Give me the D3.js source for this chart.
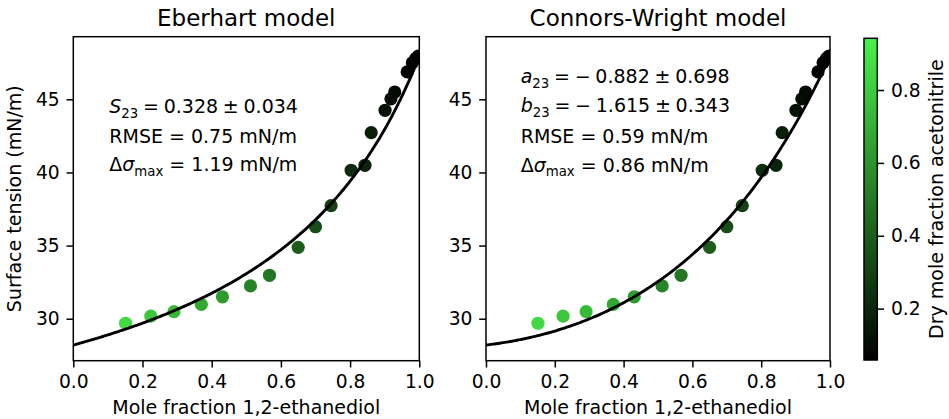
<!DOCTYPE html>
<html>
<head>
<meta charset="utf-8">
<script src="https://cdn.jsdelivr.net/npm/d3@7"></script>
<style>
  html, body { margin: 0; padding: 0; background: #fff; }
  svg { display: block; font-family: "DejaVu Sans", sans-serif; }
  text { fill: #000; }
</style>
</head>
<body>
<svg id="chart" width="949" height="419"></svg>
<script>
// Measured mixtures: mole fraction of 1,2-ethanediol, surface tension (mN/m),
// and the dry mole fraction of acetonitrile used for the colour of each point.
const ethanediol = [0.151, 0.224, 0.291, 0.370, 0.431, 0.512, 0.567, 0.650, 0.700, 0.745,
                    0.803, 0.843, 0.861, 0.901, 0.918, 0.929, 0.965, 0.980, 0.990, 0.997];
const tension    = [29.69, 30.18, 30.48, 30.98, 31.50, 32.24, 32.97, 34.88, 36.29, 37.73,
                    40.15, 40.49, 42.72, 44.25, 45.03, 45.50, 46.87, 47.51, 47.80, 47.95];
const acnDry     = [0.854, 0.780, 0.736, 0.677, 0.626, 0.537, 0.490, 0.400, 0.340, 0.300,
                    0.220, 0.190, 0.170, 0.130, 0.110, 0.100, 0.070, 0.050, 0.040, 0.030];

// Pure-component surface tensions (acetonitrile, 1,2-ethanediol), mN/m
const pureTension = [28.2, 47.95];

// Fitted model parameters
const eberhartParams = [0.328];          // S23
const connorsParams  = [-0.882, -1.615]; // a23, b23

const xTicks  = [0.0, 0.2, 0.4, 0.6, 0.8, 1.0];
const yTicks  = [30, 35, 40, 45];
const cbTicks = [0.2, 0.4, 0.6, 0.8];
const titles  = ["Eberhart model", "Connors-Wright model"];

const svg = d3.select("#chart");
const FS = 19;
const MS = "\u2005"; // medium space used around math operators

const yDomain = [27.13, 49.28];
const panels = [
  { x0: 73.3, x1: 419.3 },
  { x0: 486, x1: 830 }
];
const plotTop = 36.7, plotBottom = 360.7;

const cDomain = [0.059, 0.942];
const topColor = "rgb(72,242,72)";
const color = d3.scaleLinear().domain(cDomain).range(["#000000", topColor])
  .interpolate(d3.interpolateRgb).clamp(true);

const [sA, sB] = pureTension;
const models = [
  x => {
    const S = eberhartParams[0];
    return ((1 - x) * sA + S * x * sB) / ((1 - x) + S * x);
  },
  x => {
    const [a, b] = connorsParams;
    const xa = 1 - x;
    return sA + (1 + b * xa / (1 - a * xa)) * x * (sB - sA);
  }
];

const points = ethanediol.map((x, i) => ({ x, y: tension[i], c: acnDry[i] }));
const curveX = d3.range(0, 201).map(i => i / 200);

panels.forEach((p, k) => {
  const xs = d3.scaleLinear().domain([0, 1]).range([p.x0, p.x1]);
  const ys = d3.scaleLinear().domain(yDomain).range([plotBottom, plotTop]);
  const g = svg.append("g");

  const clipId = "clip" + k;
  svg.append("clipPath").attr("id", clipId).append("rect")
    .attr("x", p.x0).attr("y", plotTop).attr("width", p.x1 - p.x0).attr("height", plotBottom - plotTop);

  const plot = g.append("g").attr("clip-path", `url(#${clipId})`);
  plot.selectAll("circle").data(points).enter().append("circle")
    .attr("cx", d => xs(d.x)).attr("cy", d => ys(d.y)).attr("r", 6.6)
    .attr("fill", d => color(d.c));

  const line = d3.line().x(d => xs(d)).y(d => ys(models[k](d)));
  plot.append("path").datum(curveX).attr("d", line)
    .attr("fill", "none").attr("stroke", "#000").attr("stroke-width", 2.9);

  // axes
  const xAxis = d3.axisBottom(xs).tickValues(xTicks).tickFormat(d3.format(".1f"))
    .tickSize(6.8).tickPadding(6.8);
  const gx = g.append("g").attr("transform", `translate(0,${plotBottom})`).call(xAxis);
  const yAxis = d3.axisLeft(ys).tickValues(yTicks).tickFormat(d3.format("d"))
    .tickSize(6.8).tickPadding(6.8);
  const gy = g.append("g").attr("transform", `translate(${p.x0},0)`).call(yAxis);
  [gx, gy].forEach(a => {
    a.select(".domain").remove();
    a.selectAll(".tick line").attr("stroke", "#000").attr("stroke-width", 1.5);
    a.selectAll(".tick text").attr("font-size", 18.7).attr("font-family", "DejaVu Sans").attr("fill", "#000");
  });
  gx.selectAll(".tick text").attr("dy", null).attr("y", 27.6);

  g.append("rect").attr("x", p.x0).attr("y", plotTop)
    .attr("width", p.x1 - p.x0).attr("height", plotBottom - plotTop)
    .attr("fill", "none").attr("stroke", "#000").attr("stroke-width", 1.5);

  g.append("text").attr("x", (p.x0 + p.x1) / 2).attr("y", 25.7)
    .attr("text-anchor", "middle").attr("font-size", 23).text(titles[k]);

  g.append("text").attr("x", (p.x0 + p.x1) / 2).attr("y", 414)
    .attr("text-anchor", "middle").attr("font-size", FS).text("Mole fraction 1,2-ethanediol");
});

// y-axis label
svg.append("text")
  .attr("transform", `translate(21,${(plotTop + plotBottom) / 2}) rotate(-90)`)
  .attr("text-anchor", "middle").attr("font-size", FS).text("Surface tension (mN/m)");

// annotation lines with italic symbols and subscripts
function mathLine(x, y, parts) {
  const t = svg.append("text").attr("x", x).attr("y", y).attr("font-size", FS)
    .attr("xml:space", "preserve");
  parts.forEach(pt => {
    const s = t.append("tspan").text(pt.t);
    if (pt.i) s.attr("font-style", "italic");
    if (pt.sub) s.attr("font-size", FS * 0.7).attr("dy", 4.5);
    if (pt.up) s.attr("dy", -4.5);
  });
  return t;
}

// Eberhart annotation
mathLine(109.3, 113, [
  { t: "S", i: true }, { t: "23", sub: true },
  { t: `${MS}=${MS}0.328${MS}\u00b1${MS}0.034`, up: true }
]);
mathLine(109.3, 143.3, [{ t: "RMSE = 0.75 mN/m" }]);
mathLine(109.3, 171.3, [
  { t: "\u0394" }, { t: "\u03c3", i: true }, { t: "max", sub: true },
  { t: " = 1.19 mN/m", up: true }
]);

// Connors-Wright annotation
mathLine(520.7, 83.3, [
  { t: "a", i: true }, { t: "23", sub: true },
  { t: `${MS}=${MS}\u2212${MS}0.882${MS}\u00b1${MS}0.698`, up: true }
]);
mathLine(520.7, 112.3, [
  { t: "b", i: true }, { t: "23", sub: true },
  { t: `${MS}=${MS}\u2212${MS}1.615${MS}\u00b1${MS}0.343`, up: true }
]);
mathLine(520.7, 143.3, [{ t: "RMSE = 0.59 mN/m" }]);
mathLine(520.7, 171.7, [
  { t: "\u0394" }, { t: "\u03c3", i: true }, { t: "max", sub: true },
  { t: " = 0.86 mN/m", up: true }
]);

// colour bar
const cb = { x0: 864, x1: 877.3, y0: 38.3, y1: 360 };
const cs = d3.scaleLinear().domain(cDomain).range([cb.y1, cb.y0]);
const grad = svg.append("defs").append("linearGradient").attr("id", "cbgrad")
  .attr("x1", 0).attr("y1", 1).attr("x2", 0).attr("y2", 0);
d3.range(0, 11).forEach(i => {
  const v = cDomain[0] + (cDomain[1] - cDomain[0]) * i / 10;
  grad.append("stop").attr("offset", i / 10).attr("stop-color", color(v));
});
svg.append("rect").attr("x", cb.x0).attr("y", cb.y0)
  .attr("width", cb.x1 - cb.x0).attr("height", cb.y1 - cb.y0)
  .attr("fill", "url(#cbgrad)").attr("stroke", "#000").attr("stroke-width", 1.5);
const cAxis = d3.axisRight(cs).tickValues(cbTicks).tickFormat(d3.format(".1f"))
  .tickSize(6.8).tickPadding(6.8);
const gc = svg.append("g").attr("transform", `translate(${cb.x1},0)`).call(cAxis);
gc.select(".domain").remove();
gc.selectAll(".tick line").attr("stroke", "#000").attr("stroke-width", 1.5);
gc.selectAll(".tick text").attr("font-size", 18.7).attr("font-family", "DejaVu Sans").attr("fill", "#000");

svg.append("text")
  .attr("transform", `translate(943,${(cb.y0 + cb.y1) / 2}) rotate(-90)`)
  .attr("text-anchor", "middle").attr("font-size", FS).text("Dry mole fraction acetonitrile");
</script>
</body>
</html>
